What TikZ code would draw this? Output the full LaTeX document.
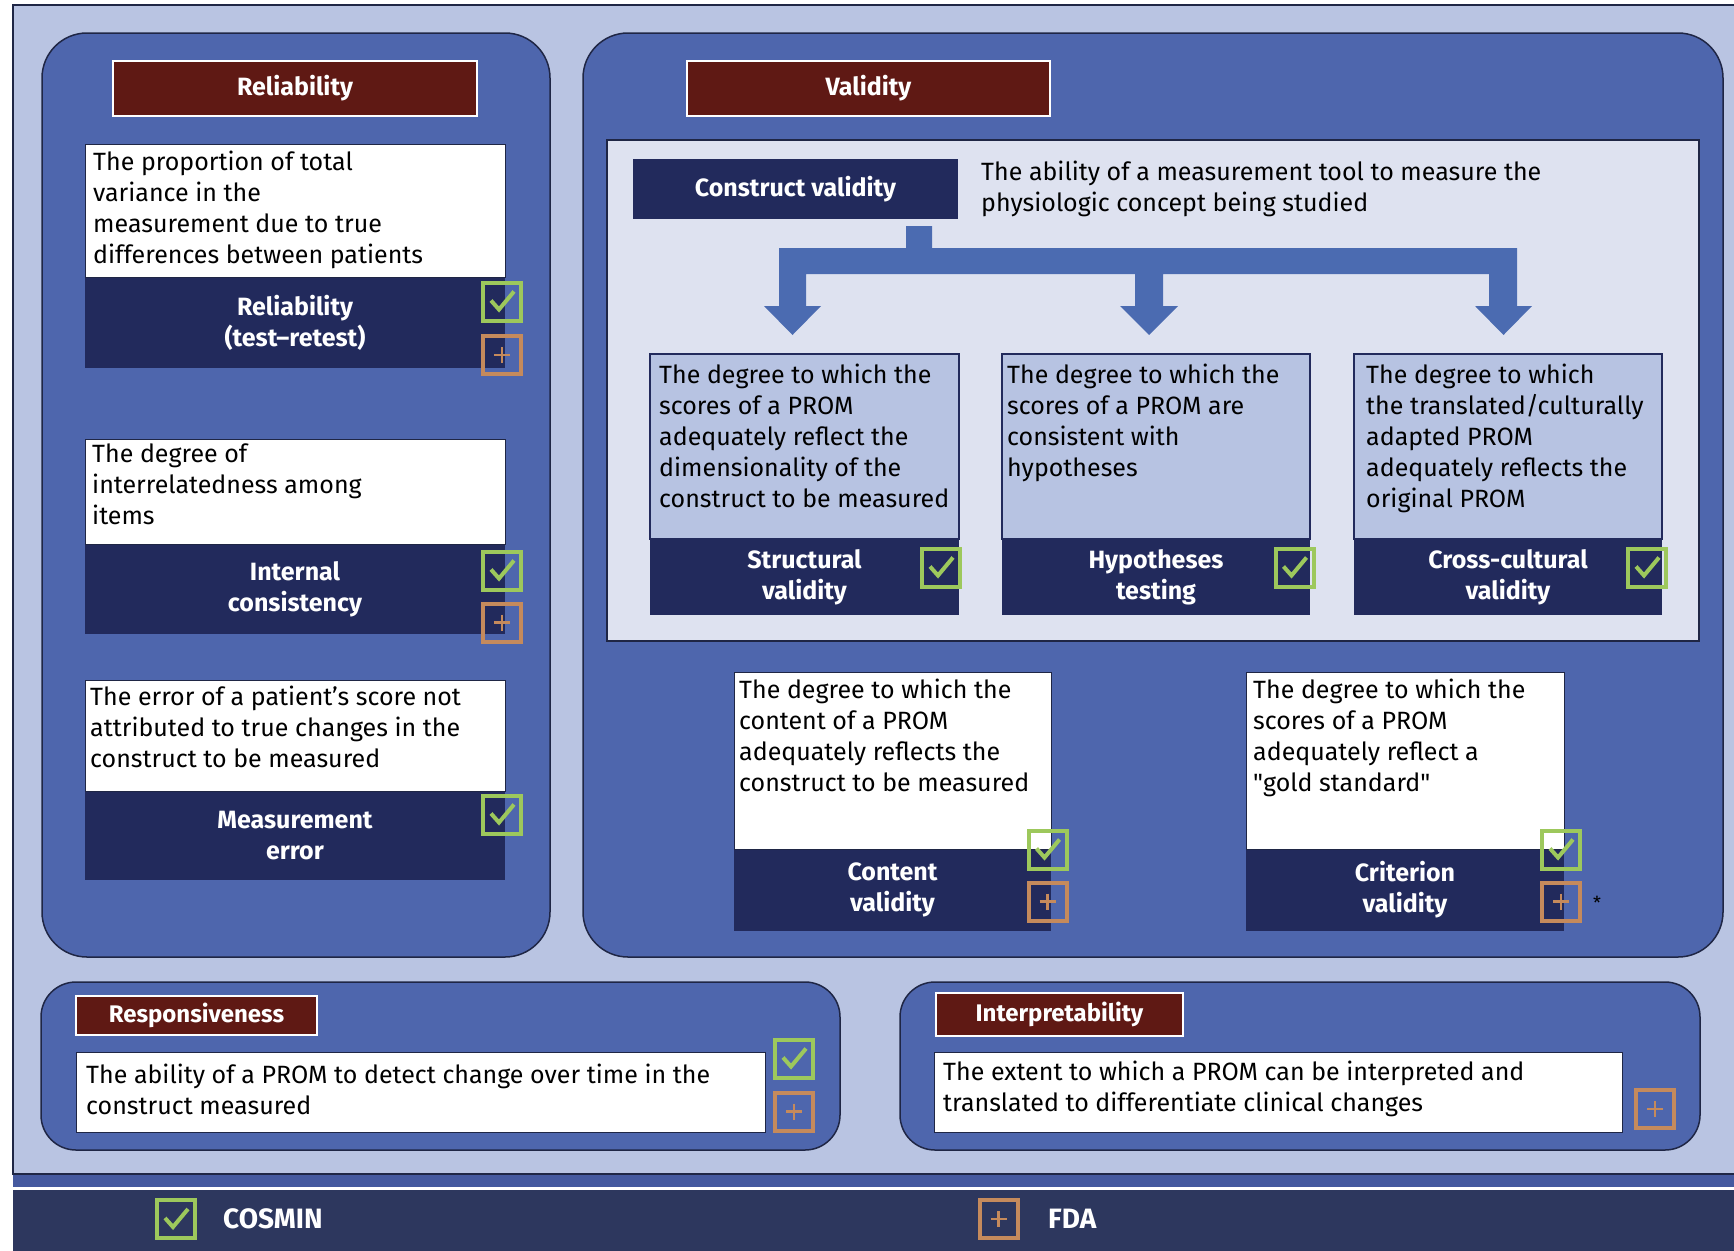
\documentclass[tikz,border=0pt]{standalone}
\usepackage{fontspec}
\setmainfont{Fira Sans}
\usetikzlibrary{fit}

\definecolor{bgpale}{HTML}{B9C4E2}
\definecolor{panelblue}{HTML}{4E66AD}
\definecolor{navy}{HTML}{222A5C}
\definecolor{maroon}{HTML}{5F1914}
\definecolor{innerpale}{HTML}{DEE2F0}
\definecolor{cardpale}{HTML}{B7C3E2}
\definecolor{arrowblue}{HTML}{4B6BB1}
\definecolor{cosgreen}{HTML}{9DC85C}
\definecolor{fdaorange}{HTML}{C58A5C}
\definecolor{legendnavy}{HTML}{2D375E}
\definecolor{bandblue}{HTML}{45599F}
\definecolor{edgeline}{HTML}{1F2645}

\newcommand\txtbody{\fontsize{25}{31}\selectfont}
\newcommand\txtlabel{\fontsize{25}{31}\selectfont\bfseries}
\newcommand\txttitle{\fontsize{24}{30}\selectfont\bfseries}
\newcommand\txtlegend{\fontsize{28}{32}\selectfont\bfseries}

\tikzset{
  panel/.style={draw=edgeline, line width=1.5pt, fill=panelblue, rounded corners=45pt, inner sep=0pt},
  smallpanel/.style={panel, rounded corners=35pt},
  titlebox/.style={draw=white, line width=1.5pt, fill=maroon, inner sep=0pt},
  titletext/.style={text=white, font=\txttitle, inner sep=0pt},
  whitecard/.style={draw=edgeline, line width=0.8pt, fill=white, inner sep=0pt},
  palecard/.style={draw=navy, line width=1.5pt, fill=cardpale, inner sep=0pt},
  navycard/.style={fill=navy, inner sep=0pt},
  desc/.style={anchor=north west, inner sep=0pt, align=left, font=\txtbody, text=black},
  cardlabel/.style={align=center, text=white, font=\txtlabel, inner sep=0pt},
  cosmin/.pic={
    \node[draw=cosgreen, line width=4pt, minimum size=38pt, inner sep=0pt] (-box) {};
    \draw[cosgreen, line width=4pt] (-box.center) ++(-11,-1) -- ++(8,9) -- ++(15,-18);
  },
  fda/.pic={
    \node[draw=fdaorange, line width=4pt, minimum size=38pt, inner sep=0pt] (-box) {};
    \draw[fdaorange, line width=2.5pt] (-box.center) ++(-8,0) -- ++(16,0)
      (-box.center) ++(0,-8) -- ++(0,16);
  },
}

\begin{document}
\begin{tikzpicture}[x=1pt,y=-1pt]
\useasboundingbox (0,0) rectangle (1734,1250);
\fill[white] (0,0) rectangle (1734,1250);

% page frame and legend strip
\node[fit={(13,5)(1745,1174)}, inner sep=0pt, fill=bgpale, draw=edgeline, line width=1.5pt] (frame) {};
\fill[bandblue] (13,1175) rectangle (1745,1187);
\node[fit={(13,1190)(1745,1255)}, inner sep=0pt, fill=legendnavy] (legend) {};

% ---------------- Reliability ----------------
\node[panel, fit={(42,33)(550,957)}] (relpanel) {};
\node[titlebox, fit={(113,61)(477,116)}] (reltitle) {};
\node[titletext, font=\txtlabel] at (reltitle.center) (reltitletext) {Reliability};

\node[navycard, fit={(85,277)(505,368)}] (r1n) {};
\node[whitecard, fit={(85,144)(505,277)}] (r1w) {};
\node[desc] at (93,151) (r1t) {The proportion of total\\variance in the\\measurement due to true\\differences between patients};
\node[cardlabel] at (r1n.center) (r1l) {Reliability\\(test–retest)};
\pic (r1c) at (502,301.5) {cosmin};
\pic (r1f) at (502,355) {fda};

\node[navycard, fit={(85,544)(505,634)}] (r2n) {};
\node[whitecard, fit={(85,439)(505,544)}] (r2w) {};
\node[desc] at (92,444) (r2t) {The degree of\\interrelatedness among\\items};
\node[cardlabel] at (r2n.center) (r2l) {Internal\\consistency};
\pic (r2c) at (502,570.5) {cosmin};
\pic (r2f) at (502,622.5) {fda};

\node[navycard, fit={(85,791)(505,880)}] (r3n) {};
\node[whitecard, fit={(85,680)(505,791)}] (r3w) {};
\node[desc] at (90,686) (r3t) {The error of a patient’s score not\\attributed to true changes in the\\construct to be measured};
\node[cardlabel] at (r3n.center) (r3l) {Measurement\\error};
\pic (r3c) at (502,814.5) {cosmin};

% ---------------- Validity ----------------
\node[panel, fit={(583,33)(1723,957)}] (valpanel) {};
\node[titlebox, fit={(687,61)(1050,116)}] (valtitle) {};
\node[titletext, font=\txtlabel] at (valtitle.center) (valtitletext) {Validity};

\node[fit={(607,140)(1699,641)}, inner sep=0pt, fill=innerpale, draw=edgeline, line width=1.2pt] (cvarea) {};
\node[navycard, fit={(633,159)(958,219)}] (cv) {};
\node[titletext, font=\txtlabel] at (cv.center) (cvtext) {Construct validity};
\node[desc] at (981,161) (cvdesc) {The ability of a measurement tool to measure the\\physiologic concept being studied};

% fork of block arrows from construct validity to its three parts
\fill[arrowblue]
  (906,226) -- (932,226) -- (932,248) -- (1517,248) -- (1517,306) -- (1532,306)
  -- (1503.5,335) -- (1475,306) -- (1489,306) -- (1489,274) -- (1163,274) -- (1163,306)
  -- (1178,306) -- (1149,335) -- (1120,306) -- (1135,306) -- (1135,274) -- (806,274)
  -- (806,306) -- (821,306) -- (792.5,335) -- (764,306) -- (779,306) -- (779,248)
  -- (906,248) -- cycle;

\node[navycard, fit={(650,539)(959,615)}] (svn) {};
\node[palecard, fit={(650,354)(959,539)}] (svw) {};
\node[desc] at (659,364) (svt) {The degree to which the\\scores of a PROM\\adequately reflect the\\dimensionality of the\\construct to be measured};
\node[cardlabel] at (svn.center) (svl) {Structural\\validity};
\pic (svc) at (941,567.5) {cosmin};

\node[navycard, fit={(1002,539)(1310,615)}] (htn) {};
\node[palecard, fit={(1002,354)(1310,539)}] (htw) {};
\node[desc] at (1007,364) (htt) {The degree to which the\\scores of a PROM are\\consistent with\\hypotheses};
\node[cardlabel] at (htn.center) (htl) {Hypotheses\\testing};
\pic (htc) at (1294.5,567.5) {cosmin};

\node[navycard, fit={(1354,539)(1662,615)}] (ccn) {};
\node[palecard, fit={(1354,354)(1662,539)}] (ccw) {};
\node[desc] at (1366,364) (cct) {The degree to which\\the translated/culturally\\adapted PROM\\adequately reflects the\\original PROM};
\node[cardlabel] at (ccn.center) (ccl) {Cross-cultural\\validity};
\pic (ccc) at (1647,567.5) {cosmin};

\node[navycard, fit={(734,849)(1051,931)}] (cnn) {};
\node[whitecard, fit={(734,672)(1051,849)}] (cnw) {};
\node[desc] at (739,679) (cnt) {The degree to which the\\content of a PROM\\adequately reflects the\\construct to be measured};
\node[cardlabel] at (cnn.center) (cnl) {Content\\validity};
\pic (cnc) at (1047.5,849.5) {cosmin};
\pic (cnf) at (1047.5,901.5) {fda};

\node[navycard, fit={(1246,849)(1564,931)}] (crn) {};
\node[whitecard, fit={(1246,672)(1564,849)}] (crw) {};
\node[desc] at (1253,679) (crt) {The degree to which the\\scores of a PROM\\adequately reflect a\\\textquotedbl gold standard\textquotedbl};
\node[cardlabel] at (crn.center) (crl) {Criterion\\validity};
\pic (crc) at (1561,849.5) {cosmin};
\pic (crf) at (1561,901.5) {fda};
\node[font=\fontsize{18}{20}\selectfont, inner sep=0pt] at (1597,903) (crstar) {*};

% ---------------- Responsiveness ----------------
\node[smallpanel, fit={(41,982)(840,1150)}] (respanel) {};
\node[titlebox, fit={(76,996)(317,1035)}] (restitle) {};
\node[titletext] at (restitle.center) (restitletext) {Responsiveness};
\node[whitecard, fit={(76,1052)(765,1132)}] (resw) {};
\node[desc] at (86,1064) (rest) {The ability of a PROM to detect change over time in the\\construct measured};
\pic (resc) at (794,1058.5) {cosmin};
\pic (resf) at (794,1111.5) {fda};

% ---------------- Interpretability ----------------
\node[smallpanel, fit={(900,982)(1700,1150)}] (intpanel) {};
\node[titlebox, fit={(936,993)(1183,1036)}] (inttitle) {};
\node[titletext] at (inttitle.center) (inttitletext) {Interpretability};
\node[whitecard, fit={(934,1052)(1622,1132)}] (intw) {};
\node[desc] at (943,1061) (intt) {The extent to which a PROM can be interpreted and\\translated to differentiate clinical changes};
\pic (intf) at (1655,1109) {fda};

% ---------------- legend ----------------
\pic (legc) at (176,1219) {cosmin};
\node[anchor=west, text=white, font=\txtlegend, inner sep=0pt] at (223,1219) (legctext) {COSMIN};
\pic (legf) at (998.5,1219) {fda};
\node[anchor=west, text=white, font=\txtlegend, inner sep=0pt] at (1048,1219) (legftext) {FDA};
\end{tikzpicture}
\end{document}
